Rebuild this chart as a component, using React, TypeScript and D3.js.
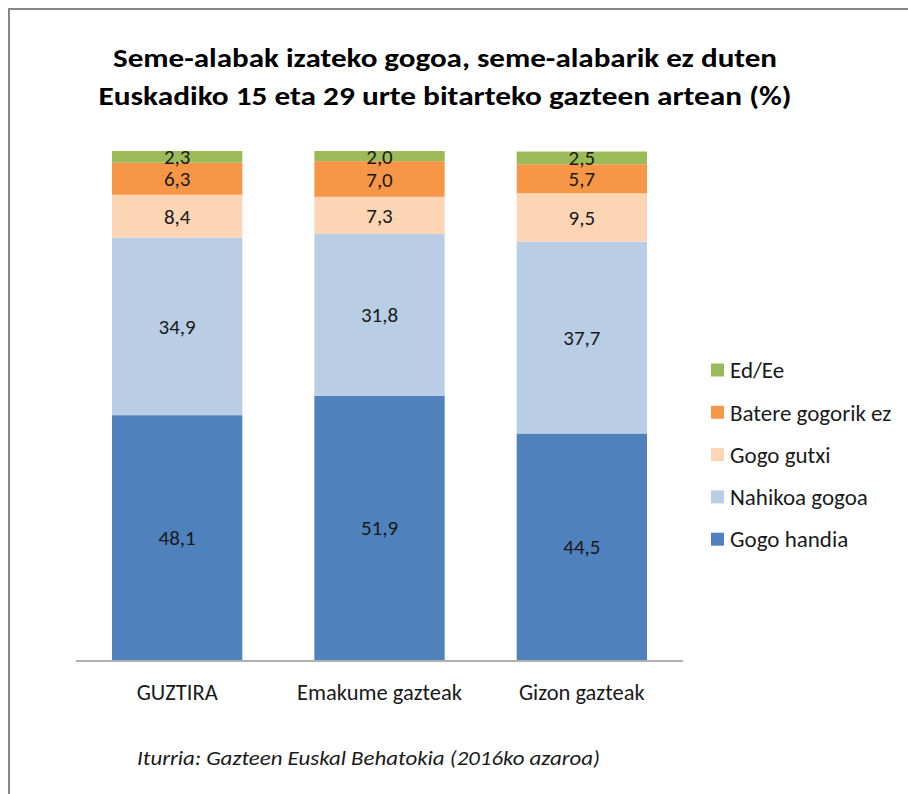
import * as d3 from 'd3';

const WIDTH = 908;
const HEIGHT = 794;

const categories = ['GUZTIRA', 'Emakume gazteak', 'Gizon gazteak'];
const seriesNames = ['Gogo handia', 'Nahikoa gogoa', 'Gogo gutxi', 'Batere gogorik ez', 'Ed/Ee'];
const gogoHandia = [48.1, 51.9, 44.5];
const nahikoaGogoa = [34.9, 31.8, 37.7];
const gogoGutxi = [8.4, 7.3, 9.5];
const batereGogorikEz = [6.3, 7.0, 5.7];
const edEe = [2.3, 2.0, 2.5];
const colors = ['#4f81bd', '#b9cde5', '#fcd5b5', '#f79646', '#9bbb59'];

const titleLines = [
  'Seme-alabak izateko gogoa, seme-alabarik ez duten',
  'Euskadiko 15 eta 29 urte bitarteko gazteen artean (%)',
];
const source = 'Iturria: Gazteen Euskal Behatokia (2016ko azaroa)';

const FONT = 'Carlito, Calibri, Lato, sans-serif';

type Row = {cat: string; [k: string]: number | string};

function App() {
  const allSeries = [gogoHandia, nahikoaGogoa, gogoGutxi, batereGogorikEz, edEe];
  const rows: Row[] = categories.map((cat, i) => {
    const r: Row = {cat};
    seriesNames.forEach((s, j) => (r[s] = allSeries[j][i]));
    return r;
  });

  const stacked = d3.stack<Row>().keys(seriesNames)(rows);

  const x = d3.scaleBand().domain(categories).range([76, 683]).paddingInner(0.356).paddingOuter(0.178);
  const y = d3.scaleLinear().domain([0, 100]).range([660, 151]);
  const color = d3.scaleOrdinal<string, string>().domain(seriesNames).range(colors);
  const fmt = (v: number) => v.toFixed(1).replace('.', ',');

  const legendItems = [...seriesNames].reverse();

  return (
    <svg
      width={WIDTH}
      height={HEIGHT}
      style={{position: 'absolute', left: 0, top: 0, display: 'block', background: '#fff'}}
    >
      <rect x={0} y={0} width={WIDTH} height={HEIGHT} fill="#fff" />
      {/* outer chart frame, cut by the picture on right/bottom */}
      <path d={`M9,${HEIGHT + 5} V9 H${WIDTH + 5}`} fill="none" stroke="#878787" strokeWidth={2} />

      {titleLines.map((t, i) => (
        <text
          key={i}
          x={445}
          y={67 + i * 38}
          textAnchor="middle"
          fontFamily={FONT}
          fontWeight="bold"
          fontSize={27}
          fill="#000"
          textLength={i === 0 ? 664 : 693}
          lengthAdjust="spacingAndGlyphs"
        >
          {t}
        </text>
      ))}

      {stacked.map((layer) => (
        <g key={layer.key} fill={color(layer.key)}>
          {layer.map((d) => (
            <rect
              key={d.data.cat as string}
              x={x(d.data.cat as string)}
              y={y(d[1])}
              width={x.bandwidth()}
              height={y(d[0]) - y(d[1])}
            />
          ))}
        </g>
      ))}

      {stacked.map((layer) => (
        <g key={layer.key + '-lbl'}>
          {layer.map((d) => (
            <text
              key={d.data.cat as string}
              x={(x(d.data.cat as string) ?? 0) + x.bandwidth() / 2}
              y={(y(d[0]) + y(d[1])) / 2}
              dy="0.36em"
              textAnchor="middle"
              fontFamily={FONT}
              fontSize={21}
              fill="#1a1a1a"
            >
              {fmt(d[1] - d[0])}
            </text>
          ))}
        </g>
      ))}

      <line x1={76} x2={683} y1={661} y2={661} stroke="#b0b0b0" strokeWidth={2} />

      {categories.map((c) => (
        <text
          key={c}
          x={(x(c) ?? 0) + x.bandwidth() / 2}
          y={692}
          dy="0.36em"
          textAnchor="middle"
          fontFamily={FONT}
          fontSize={22.5}
          fill="#1a1a1a"
        >
          {c}
        </text>
      ))}

      {legendItems.map((s, i) => (
        <g key={s} transform={`translate(711, ${370 + i * 42.3})`}>
          <rect x={0} y={-6.5} width={13} height={13} fill={color(s)} />
          <text x={19} y={0} dy="0.36em" fontFamily={FONT} fontSize={23} fill="#1a1a1a">
            {s}
          </text>
        </g>
      ))}

      <text
        x={137}
        y={757}
        dy="0.36em"
        fontFamily={FONT}
        fontStyle="italic"
        fontSize={21}
        fill="#1a1a1a"
        textLength={463}
        lengthAdjust="spacingAndGlyphs"
      >
        {source}
      </text>
    </svg>
  );
}

export default App;
